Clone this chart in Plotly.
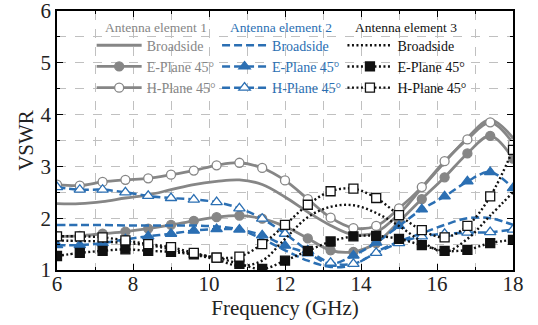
import plotly.graph_objects as go

freq = [6.0, 6.6, 7.2, 7.8, 8.4, 9.0, 9.6, 10.2, 10.8, 11.4, 12.0,
        12.6, 13.2, 13.8, 14.4, 15.0, 15.6, 16.2, 16.8, 17.4, 18.0]

e1_broadside = [2.28, 2.28, 2.32, 2.39, 2.45, 2.55, 2.65, 2.71, 2.74, 2.65, 2.41,
                2.12, 1.86, 1.68, 1.73, 2.08, 2.58, 3.08, 3.55, 3.90, 3.55]
e1_eplane = [1.65, 1.66, 1.70, 1.74, 1.80, 1.87, 1.95, 2.02, 2.05, 1.99, 1.84,
             1.61, 1.38, 1.35, 1.52, 1.93, 2.37, 2.79, 3.25, 3.59, 3.15]
e1_hplane = [2.65, 2.63, 2.70, 2.74, 2.77, 2.84, 2.92, 3.02, 3.07, 2.97, 2.73,
             2.37, 2.01, 1.81, 1.85, 2.19, 2.60, 3.10, 3.52, 3.85, 3.45]

e2_broadside = [1.87, 1.87, 1.87, 1.86, 1.86, 1.86, 1.86, 1.84, 1.78, 1.60, 1.38,
                1.18, 1.06, 1.10, 1.35, 1.55, 1.71, 1.87, 2.00, 2.00, 1.87]
e2_eplane = [1.48, 1.48, 1.52, 1.59, 1.65, 1.70, 1.76, 1.79, 1.78, 1.67, 1.47,
             1.32, 1.12, 1.28, 1.53, 1.85, 2.17, 2.42, 2.71, 2.89, 2.58]
e2_hplane = [2.60, 2.55, 2.55, 2.50, 2.43, 2.39, 2.36, 2.31, 2.19, 1.99, 1.70,
             1.38, 1.14, 1.12, 1.33, 1.52, 1.65, 1.70, 1.72, 1.73, 1.78]

e3_broadside = [1.57, 1.56, 1.55, 1.52, 1.48, 1.40, 1.30, 1.20, 1.08, 1.18, 1.60,
                2.02, 2.22, 2.25, 2.10, 1.85, 1.55, 1.35, 1.60, 2.05, 2.50]
e3_eplane = [1.27, 1.33, 1.37, 1.40, 1.37, 1.35, 1.30, 1.24, 1.12, 1.02, 1.18,
             1.37, 1.55, 1.65, 1.66, 1.60, 1.48, 1.37, 1.39, 1.52, 1.58]
e3_hplane = [1.65, 1.65, 1.63, 1.57, 1.50, 1.44, 1.33, 1.24, 1.26, 1.50, 1.87,
             2.26, 2.52, 2.57, 2.39, 2.06, 1.77, 1.63, 1.85, 2.42, 3.32]

labels = ["Broadside", "E-Plane 45°", "H-Plane 45°"]
titles = ["Antenna element 1", "Antenna element 2", "Antenna element 3"]

GRAY = "#868686"
BLUE = "#2b6fb3"
BLACK = "#111111"
FONT = "Times New Roman, Liberation Serif, Tinos, Nimbus Roman, DejaVu Serif, serif"

groups = [
    dict(series=[e1_broadside, e1_eplane, e1_hplane], color=GRAY, dash="solid",
         width=2.8, symbols=[None, "circle", "circle-open"], legend="legend"),
    dict(series=[e2_broadside, e2_eplane, e2_hplane], color=BLUE, dash="8px,4px",
         width=2.5, symbols=[None, "triangle-up", "triangle-up-open"], legend="legend2"),
    dict(series=[e3_broadside, e3_eplane, e3_hplane], color=BLACK, dash="2px,2.5px",
         width=2.4, symbols=[None, "square", "square-open"], legend="legend3"),
]

fig = go.Figure()
for g in groups:
    for ser, lab, sym in zip(g["series"], labels, g["symbols"]):
        if sym is None:
            mode = "lines"
            marker = None
        else:
            mode = "lines+markers"
            is_open = sym.endswith("-open")
            base = sym.replace("-open", "")
            marker = dict(
                symbol=base,
                size=9 if base != "triangle-up" else 10,
                color="white" if is_open else g["color"],
                line=dict(color=g["color"], width=1.3),
            )
        fig.add_trace(go.Scatter(
            x=freq, y=ser, mode=mode, name=lab,
            line=dict(color=g["color"], width=g["width"], dash=g["dash"],
                      shape="spline", smoothing=1.0),
            marker=marker, legend=g["legend"],
        ))

axis_common = dict(
    showline=True, linecolor="black", linewidth=1.5, mirror="ticks",
    ticks="inside", ticklen=6, tickcolor="black", tickwidth=1,
    showgrid=True, gridcolor="#c0c0c0", griddash="dash", gridwidth=1,
    zeroline=False, automargin=False, ticklabeloverflow="allow",
    tickfont=dict(family=FONT, size=21, color="#222222"),
)

fig.update_xaxes(
    range=[6, 18], dtick=2, tick0=6,
    minor=dict(dtick=1, ticks="inside", ticklen=3, tickcolor="black",
               showgrid=True, gridcolor="#c0c0c0", griddash="dash"),
    ticklabelstandoff=-6,
    title=dict(text="Frequency (GHz)", font=dict(family=FONT, size=21, color="#222222"),
               standoff=0),
    **axis_common,
)
fig.update_yaxes(
    range=[1, 6], dtick=1, tick0=1,
    minor=dict(dtick=0.5, ticks="inside", ticklen=3, tickcolor="black",
               showgrid=True, gridcolor="#c0c0c0", griddash="dash"),
    title=dict(text="VSWR", font=dict(family=FONT, size=21, color="#222222"),
               standoff=1),
    **axis_common,
)

fig.add_shape(type="rect", xref="paper", yref="paper", x0=0, x1=1,
              y0=0.64, y1=1, fillcolor="white", line=dict(width=0),
              layer="between")

title_colors = [GRAY, BLUE, BLACK]
title_x = [0.101, 0.375, 0.649]
for t, c, xx in zip(titles, title_colors, title_x):
    fig.add_annotation(text=t, xref="paper", yref="paper", x=xx, y=0.935,
                       xanchor="left", yanchor="middle", showarrow=False,
                       font=dict(family=FONT, size=13.5, color=c))

leg_common = dict(yanchor="top", y=0.928, xanchor="left",
                  bgcolor="rgba(0,0,0,0)", borderwidth=0, itemwidth=45,
                  orientation="v", tracegroupgap=0)
fig.update_layout(
    legend=dict(x=0.076, font=dict(family=FONT, size=14, color=GRAY), **leg_common),
    legend2=dict(x=0.351, font=dict(family=FONT, size=14, color=BLUE), **leg_common),
    legend3=dict(x=0.626, font=dict(family=FONT, size=14, color=BLACK), **leg_common),
    width=538, height=325,
    margin=dict(l=57, r=25, t=11, b=55, autoexpand=False),
    plot_bgcolor="white", paper_bgcolor="white",
    showlegend=True,
)

fig.write_html("out.html", config={"displayModeBar": False},
               post_script="document.body.style.margin='0';document.body.style.padding='0';")
